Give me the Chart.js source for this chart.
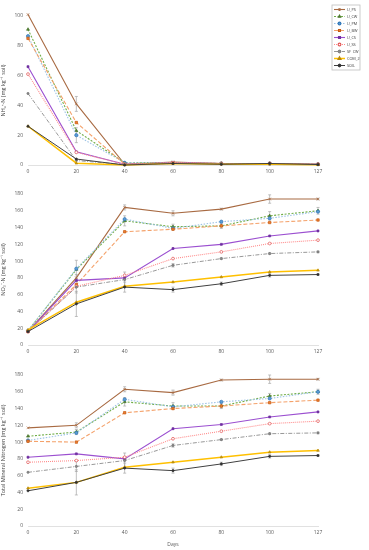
<!DOCTYPE html>
<html lang="en">
<head>
  <meta charset="UTF-8" />
  <title>Mineral nitrogen</title>
  <script src="https://cdn.jsdelivr.net/npm/chart.js"></script>
  <style>
    body { margin: 0; background: #fff; font-family: "Open Sans", Arial, sans-serif; }
    .wrap { position: relative; width: 369px; height: 550px; }
    canvas { position: absolute; left: 0; }
  </style>
</head>
<body>
  <div class="wrap">
    <canvas id="chartNH4" width="369" height="180" style="top:0"></canvas>
    <canvas id="chartNO3" width="369" height="180" style="top:180px"></canvas>
    <canvas id="chartTotal" width="369" height="190" style="top:360px"></canvas>
  </div>

  <script>
    const days = ['0', '20', '40', '60', '80', '100', '127'];
    const treatments = ['U_PS', 'U_CW', 'U_PM', 'U_BW', 'U_CS', 'U_SS', 'SF_CW', 'COM_2', 'SOIL'];

    // NH4+-N
    const nh4_PS   = [101, 41, 0.5, 2, 1, 1, 0.5];
    const nh4_CW   = [91, 23, 1.5, 1.5, 1, 1, 0.5];
    const nh4_PM   = [86.5, 20, 1.5, 1.5, 1, 1, 0.5];
    const nh4_BW   = [85, 28.5, 0.5, 1.5, 1, 1, 0.5];
    const nh4_CS   = [66, 8.8, 0.5, 1.5, 1, 1, 0.5];
    const nh4_SS   = [61, 8.5, 0.5, 1.5, 1, 1, 0.5];
    const nh4_SFCW = [48, 3, 0.3, 1, 1, 1, 0.5];
    const nh4_COM2 = [26, 1.2, 0, 1, 0.5, 0.5, 0.2];
    const nh4_SOIL = [26, 4, 0, 1, 0.5, 1, 0.3];

    // NO3--N
    const no3_PS   = [16, 80, 164, 157, 162, 174, 174];
    const no3_CW   = [17, 90, 148, 141, 142, 154, 160];
    const no3_PM   = [17, 91, 150, 139, 147, 151, 159];
    const no3_BW   = [16, 72, 135, 138, 142, 146, 149];
    const no3_CS   = [16, 77, 80, 115, 120, 130, 136];
    const no3_SS   = [16, 70, 83, 103, 111, 121, 125];
    const no3_SFCW = [16, 69, 78, 95, 103, 109, 111];
    const no3_COM2 = [18, 51, 70, 75, 81, 87, 89];
    const no3_SOIL = [16, 49, 69, 66, 73, 83, 84];

    // total mineral N
    const tot_PS   = [117, 120, 163, 159, 174, 175, 175];
    const tot_CW   = [107, 112, 148, 143, 143, 155, 160];
    const tot_PM   = [102, 111, 151, 142, 148, 152, 160];
    const tot_BW   = [101, 100, 135, 140, 143, 147, 150];
    const tot_CS   = [82, 86, 80, 116, 121, 130, 136];
    const tot_SS   = [76, 78, 82, 104, 113, 122, 125];
    const tot_SFCW = [64, 71, 78, 96, 103, 110, 111];
    const tot_COM2 = [45, 52, 70, 76, 82, 88, 90];
    const tot_SOIL = [42, 52, 69, 66, 74, 83, 84];

    // error bars (only the visible ones)
    const err_nh4_PS  = [0, 5, 0, 0, 0, 0, 0];
    const err_nh4_PM  = [0, 5, 0, 0, 0, 0, 0];
    const err_no3_PS  = [0, 4, 3, 3, 1, 5, 1];
    const err_no3_CW  = [0, 11, 6, 3, 3, 5, 4];
    const err_no3_SF  = [0, 7, 9, 2, 1, 1, 1];
    const err_no3_SOIL= [0, 15, 6, 3, 2, 2, 1];
    const err_tot_PS  = [0, 3, 3, 3, 1, 5, 1];
    const err_tot_CW  = [0, 3, 5, 4, 3, 3, 3];
    const err_tot_SF  = [0, 6, 9, 2, 1, 1, 1];
    const err_tot_SOIL= [0, 15, 6, 3, 2, 2, 1];

    const styles = [
      { line: '#a86a42', point: '#a86a42', dash: [],     shape: 'crossRot', width: 1.1, fill: '#a86a42', r: 1.8 },
      { line: '#70ad47', point: '#4e7a30', dash: [2, 1.5], shape: 'triangle', width: 1.1, fill: '#4e7a30', r: 1.7 },
      { line: '#9dc3e6', point: '#2e75b6', dash: [1.5, 1.5], shape: 'circle', width: 1.1, fill: '#5b9bd5', r: 1.6 },
      { line: '#f4a26b', point: '#c55a11', dash: [4, 2], shape: 'rect', width: 1.1, fill: '#ed7d31', r: 1.7 },
      { line: '#9b4fd0', point: '#7030a0', dash: [],     shape: 'rect', width: 1.1, fill: '#7030a0', r: 1.4 },
      { line: '#ff8c8c', point: '#e05050', dash: [1, 1], shape: 'circle', width: 1.1, fill: '#ffffff', r: 1.4 },
      { line: '#8c8c8c', point: '#6e6e6e', dash: [4, 1.5, 1, 1.5], shape: 'circle', width: 0.9, fill: '#8c8c8c', r: 1.1 },
      { line: '#ffc000', point: '#b8860b', dash: [],     shape: 'triangle', width: 1.5, fill: '#c9a000', r: 1.5 },
      { line: '#404040', point: '#303030', dash: [],     shape: 'circle', width: 1.0, fill: '#303030', r: 1.1 }
    ];

    function makeSets(values, errs) {
      return values.map((v, i) => ({
        label: treatments[i],
        data: v,
        err: errs[i] || null,
        borderColor: styles[i].line,
        borderWidth: styles[i].width,
        borderDash: styles[i].dash,
        pointStyle: styles[i].shape,
        pointBackgroundColor: styles[i].fill,
        pointBorderColor: styles[i].point,
        pointBorderWidth: 0.7,
        pointRadius: styles[i].r,
        tension: 0,
        clip: false
      })).reverse();
    }

    const errorBars = {
      id: 'errorBars',
      beforeDatasetsDraw(chart) {
        const ctx = chart.ctx;
        const y = chart.scales.y;
        ctx.save();
        ctx.strokeStyle = '#a6a6a6';
        ctx.lineWidth = 0.7;
        chart.data.datasets.forEach((ds, di) => {
          if (!ds.err) return;
          const meta = chart.getDatasetMeta(di);
          ds.err.forEach((e, j) => {
            if (!e) return;
            const px = meta.data[j].x;
            const top = y.getPixelForValue(ds.data[j] + e);
            const bot = y.getPixelForValue(ds.data[j] - e);
            ctx.beginPath();
            ctx.moveTo(px, top); ctx.lineTo(px, bot);
            ctx.moveTo(px - 1.5, top); ctx.lineTo(px + 1.5, top);
            ctx.moveTo(px - 1.5, bot); ctx.lineTo(px + 1.5, bot);
            ctx.stroke();
          });
        });
        ctx.restore();
      }
    };

    const sideLegend = {
      id: 'sideLegend',
      afterDraw(chart) {
        const ctx = chart.ctx;
        ctx.save();
        ctx.strokeStyle = '#bfbfbf';
        ctx.lineWidth = 0.8;
        ctx.strokeRect(332, 5, 28, 65);
        ctx.font = '3.8px "Open Sans", Arial';
        ctx.textBaseline = 'middle';
        treatments.forEach((name, i) => {
          const s = styles[i];
          const yy = 9.5 + i * 7;
          ctx.strokeStyle = s.line;
          ctx.lineWidth = s.width;
          ctx.setLineDash(s.dash);
          ctx.beginPath(); ctx.moveTo(334, yy); ctx.lineTo(345, yy); ctx.stroke();
          ctx.setLineDash([]);
          ctx.fillStyle = s.fill;
          ctx.strokeStyle = s.point;
          Chart.helpers.drawPoint(ctx, { pointStyle: s.shape, radius: 1.4, borderWidth: 0.7 }, 339.5, yy);
          ctx.fillStyle = '#404040';
          ctx.fillText(name, 347, yy);
        });
        ctx.restore();
      }
    };

    function buildChart(id, sets, yTitle, yMax, padTop, xTitle, extra) {
      return new Chart(document.getElementById(id), {
        type: 'line',
        data: { labels: days, datasets: sets },
        plugins: [errorBars].concat(extra),
        options: {
          responsive: false,
          animation: false,
          layout: { padding: { top: padTop, right: 51, bottom: xTitle ? 2 : 1, left: 0 } },
          plugins: { legend: { display: false }, tooltip: { enabled: false } },
          scales: {
            x: {
              afterFit(scale) { scale.height = xTitle ? 22 : 14; },
              grid: { display: false, drawTicks: false },
              border: { display: true, color: '#d9d9d9', width: 0.8 },
              ticks: { padding: 4, maxRotation: 0, color: '#595959', font: { size: 5, family: '"Open Sans", Arial' } },
              title: { display: !!xTitle, text: xTitle, padding: { top: 1, bottom: 0 }, color: '#595959', font: { size: 5, family: '"Open Sans", Arial' } }
            },
            y: {
              min: 0, max: yMax,
              afterFit(scale) { scale.width = 28; },
              grid: { display: false, drawTicks: false },
              border: { display: false },
              ticks: { stepSize: 20, padding: 5, color: '#595959', font: { size: 5, family: '"Open Sans", Arial' } },
              title: { display: true, text: yTitle, padding: { top: 0, bottom: 2 }, color: '#404040', font: { size: 5.5, family: '"Open Sans", Arial' } }
            }
          }
        }
      });
    }

    buildChart('chartNH4',
      makeSets([nh4_PS, nh4_CW, nh4_PM, nh4_BW, nh4_CS, nh4_SS, nh4_SFCW, nh4_COM2, nh4_SOIL],
               [err_nh4_PS, null, err_nh4_PM]),
      'NH\u2084\u207A-N (mg kg\u207B\u00B9 soil)', 100, 16, '', [sideLegend]);

    buildChart('chartNO3',
      makeSets([no3_PS, no3_CW, no3_PM, no3_BW, no3_CS, no3_SS, no3_SFCW, no3_COM2, no3_SOIL],
               [err_no3_PS, err_no3_CW, null, null, null, null, err_no3_SF, null, err_no3_SOIL]),
      'NO\u2083\u207B-N (mg kg\u207B\u00B9 soil)', 180, 14, '', []);

    buildChart('chartTotal',
      makeSets([tot_PS, tot_CW, tot_PM, tot_BW, tot_CS, tot_SS, tot_SFCW, tot_COM2, tot_SOIL],
               [err_tot_PS, err_tot_CW, null, null, null, null, err_tot_SF, null, err_tot_SOIL]),
      'Total Mineral Nitrogen (mg kg\u207B\u00B9 soil)', 180, 15, 'Days', []);
  </script>
</body>
</html>
